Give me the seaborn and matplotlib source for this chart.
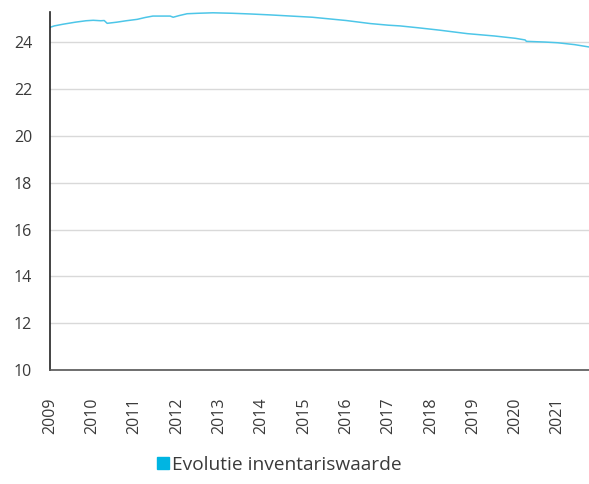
import pandas as pd
import matplotlib.pyplot as plt
import matplotlib.patches as mpatches
import seaborn as sns

# Inventariswaarde per jaar
years = [2009.0, 2009.1, 2009.3, 2009.6, 2009.85, 2010.02, 2010.2, 2010.28, 2010.35,
         2010.58, 2010.8, 2011.06, 2011.25, 2011.43, 2011.84, 2011.91, 2012.05, 2012.24,
         2012.5, 2012.85, 2013.3, 2013.73, 2014.2, 2014.7, 2015.2, 2015.6, 2016.0,
         2016.57, 2017.0, 2017.27, 2017.7, 2018.2, 2018.86, 2019.5, 2020.0, 2020.23,
         2020.26, 2020.7, 2021.0, 2021.4, 2021.74]
values = [24.64, 24.70, 24.77, 24.86, 24.92, 24.94, 24.92, 24.93, 24.81,
          24.86, 24.92, 24.98, 25.06, 25.12, 25.12, 25.07, 25.14, 25.22,
          25.24, 25.26, 25.24, 25.21, 25.17, 25.12, 25.07, 25.00, 24.93,
          24.80, 24.73, 24.70, 24.62, 24.52, 24.37, 24.27, 24.17, 24.10,
          24.04, 24.01, 23.98, 23.90, 23.80]
tick_years = list(range(2009, 2022))
y_ticks = [10, 12, 14, 16, 18, 20, 22, 24]
label = 'Evolutie inventariswaarde'

df = pd.DataFrame({'jaar': years, 'waarde': values})

sns.set_style('white')
plt.rcParams['font.family'] = ['Open Sans', 'DejaVu Sans']
line_color = '#4DC6E8'
text_color = '#3a3a3a'

fig = plt.figure(figsize=(5.89, 4.84), dpi=100)
ax = fig.add_axes([0.085, 0.2355, 0.915, 0.74])

sns.lineplot(data=df, x='jaar', y='waarde', color=line_color, linewidth=1.1, ax=ax)

ax.set_xlim(2009, max(years))
ax.set_ylim(10, 25.3)
ax.set_yticks(y_ticks)
ax.set_xticks(tick_years)
ax.set_xticklabels([str(y) for y in tick_years], rotation=90)
ax.tick_params(axis='both', labelsize=11.5, colors=text_color, length=0)
ax.tick_params(axis='x', pad=20)
ax.tick_params(axis='y', pad=13)
ax.yaxis.grid(True, color='#d9d9d9', linewidth=1)
ax.set_axisbelow(True)
ax.set_xlabel('')
ax.set_ylabel('')

for s in ['top', 'right']:
    ax.spines[s].set_visible(False)
ax.spines['left'].set_color('#222222')
ax.spines['bottom'].set_color('#555555')
ax.spines['left'].set_linewidth(1.2)
ax.spines['bottom'].set_linewidth(1.2)

handle = mpatches.Patch(color='#00B5E2', label=label)
fig.legend(handles=[handle], loc='center', bbox_to_anchor=(0.474, 0.04), frameon=False,
           fontsize=13.8, handlelength=0.65, handleheight=0.65, handletextpad=0.15,
           labelcolor=text_color)

plt.savefig('out.png', dpi=100)
